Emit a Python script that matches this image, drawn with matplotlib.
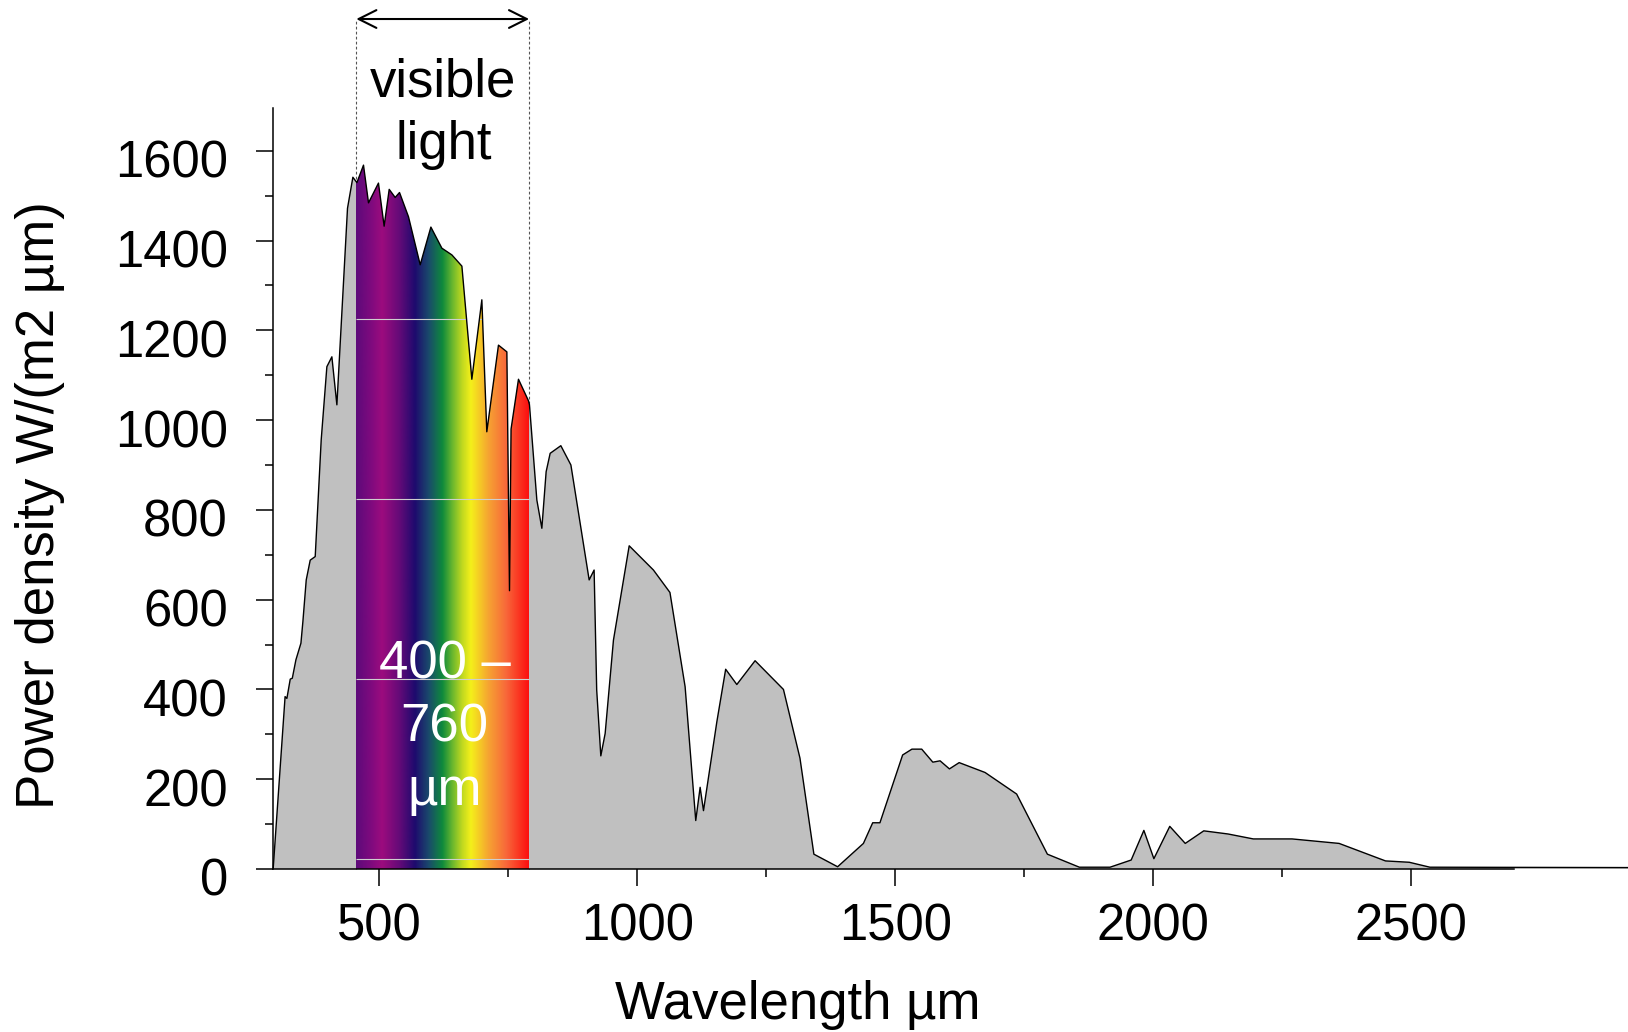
import numpy as np
import matplotlib
matplotlib.use('Agg')
import matplotlib.pyplot as plt
from matplotlib.colors import LinearSegmentedColormap
from matplotlib.patches import Polygon
from matplotlib.ticker import MultipleLocator
from matplotlib.transforms import ScaledTranslation

plt.rcParams['font.family'] = ['Liberation Sans', 'DejaVu Sans']

# ---- data ----
wavelength = [294, 317, 320.5, 327, 331, 338, 347.7, 351.5, 358, 365.7, 375.4, 387,
              398, 407.7, 417.4, 438, 448.4, 456.2, 469, 478.7, 498, 509, 518.8,
              530.4, 538.8, 556.2, 578.9, 599.6, 620.9, 640.3, 659.7, 679, 698.4,
              708, 730.6, 746.9, 752, 755, 769.4, 788.8, 790.7, 805, 814.7, 823,
              830.8, 851.5, 871, 906.4, 916, 921, 929, 937.4, 953.5, 984, 1031,
              1063, 1092.4, 1113, 1121.5, 1128, 1153.9, 1171, 1192.6, 1228, 1283,
              1315, 1342, 1388, 1438, 1456, 1470, 1514, 1532, 1551, 1572.5, 1586.6,
              1604.7, 1623.6, 1673.8, 1735, 1794.6, 1856.6, 1916, 1957, 1981.6,
              2001, 2031.8, 2061.8, 2097.7, 2144.8, 2193.7, 2268.8, 2360, 2450,
              2496, 2536, 3000]
power = [2, 384, 380, 423, 425, 466, 503, 551, 644, 688, 696, 956,
         1119, 1141, 1034, 1472, 1541, 1529, 1568, 1484, 1528, 1432, 1514,
         1496, 1507, 1453, 1346, 1430, 1383, 1368, 1343, 1091, 1268,
         974, 1167, 1152, 620, 980, 1091, 1043, 1034, 822, 759, 885,
         926, 943, 900, 644, 666, 399, 252, 302, 510, 720, 666,
         616, 406, 108, 182, 130, 328, 445, 411, 464, 400,
         247, 33, 5, 57, 103, 103, 254, 267, 267, 238, 241,
         223, 237, 215, 167, 33, 4, 4, 20, 86,
         23, 95, 57, 85, 78, 67, 67, 57, 18,
         15, 4, 3]

x_ticks = [500, 1000, 1500, 2000, 2500]
y_ticks = [0, 200, 400, 600, 800, 1000, 1200, 1400, 1600]
visible_range = [455, 790]
band_lines = [1225, 824, 423, 22]
spectrum_stops = [0.00, 0.08, 0.15, 0.25, 0.34, 0.42, 0.50, 0.56, 0.615, 0.665, 0.77, 0.87, 1.00]
spectrum_colors = ['#5e0a7a', '#7c0a7e', '#9c0c7e', '#640a78', '#1e0a6e', '#1a4a6c',
                   '#0e8a3c', '#6cb82e', '#c0d820', '#f4f01a', '#f6a232', '#f8683a', '#fc1010']

XMIN, XMAX = 293, 2700
YMIN, YMAX = 0, 1694.6
ARROW_Y = 1893.5

W, H = 1628, 1032
fig = plt.figure(figsize=(W / 100, H / 100), dpi=100)
ax = fig.add_axes([272.7 / W, 1 - 869 / H, (1514.5 - 272.7) / W, (869 - 108.3) / H])

# filled spectrum polygon
verts = [(wavelength[0], 0)] + list(zip(wavelength, power)) + [(wavelength[-1], 0)]
poly = Polygon(verts, closed=True, facecolor='#c0c0c0', edgecolor='none', zorder=1, clip_on=False)
ax.add_patch(poly)

# visible-light gradient clipped to the spectrum
cmap = LinearSegmentedColormap.from_list('vis', list(zip(spectrum_stops, spectrum_colors)))
grad = np.linspace(0, 1, 600)[None, :]
im = ax.imshow(grad, cmap=cmap, extent=[visible_range[0], visible_range[1], YMIN, YMAX],
               aspect='auto', zorder=2, interpolation='bilinear', origin='lower')
im.set_clip_path(poly)

hl = ax.hlines(band_lines, visible_range[0], visible_range[1], colors='#cfcfcf', lw=0.8, zorder=3)
hl.set_clip_path(poly)

# outline
ax.plot(wavelength, power, color='black', lw=1.0, zorder=4, clip_on=False)

# dotted guides and arrow
ax.vlines(visible_range, 0, ARROW_Y, colors='#555555', linestyles=(0, (2.5, 2)), lw=0.8,
          zorder=0.5, clip_on=False)
ax.annotate('', xy=(visible_range[0], ARROW_Y), xytext=(visible_range[1], ARROW_Y),
            arrowprops=dict(arrowstyle='<->', lw=1.5, mutation_scale=32, color='black',
                            shrinkA=0, shrinkB=0), annotation_clip=False)

mid = 624
ax.text(mid, 1720, 'visible', ha='center', va='baseline', fontsize=38, clip_on=False)
ax.text(mid, 1581, 'light', ha='center', va='baseline', fontsize=38, clip_on=False)
ax.text(626, 425, '400 –', ha='center', va='baseline', fontsize=38, color='white', zorder=5)
ax.text(626, 284, '760', ha='center', va='baseline', fontsize=38, color='white', zorder=5)
ax.text(626, 143, 'µm', ha='center', va='baseline', fontsize=38, color='white', zorder=5)

ax.set_xlim(XMIN, XMAX)
ax.set_ylim(YMIN, YMAX)

for s in ['top', 'right']:
    ax.spines[s].set_visible(False)
for s in ['left', 'bottom']:
    ax.spines[s].set_linewidth(1.1)
    ax.spines[s].set_zorder(6)

ax.set_xticks(x_ticks)
ax.set_yticks(y_ticks)
ax.xaxis.set_minor_locator(MultipleLocator(250))
ax.yaxis.set_minor_locator(MultipleLocator(100))
ax.tick_params(which='major', length=12.2, width=1.1, labelsize=36.5)
ax.tick_params(which='minor', length=6.1, width=1.1)
ax.tick_params(axis='x', pad=12)
ax.tick_params(axis='y', pad=20)
for lbl in ax.get_yticklabels():
    lbl.set_transform(lbl.get_transform() + ScaledTranslation(0, -0.08, fig.dpi_scale_trans))

fig.text(797.9 / W, 1 - 1019 / H, 'Wavelength µm', ha='center', va='baseline', fontsize=38)
fig.text(40 / W, 1 - 505 / H, 'Power density W/(m2 µm)', ha='center', va='center',
         rotation=90, fontsize=38)

fig.savefig('out.png', dpi=100)
